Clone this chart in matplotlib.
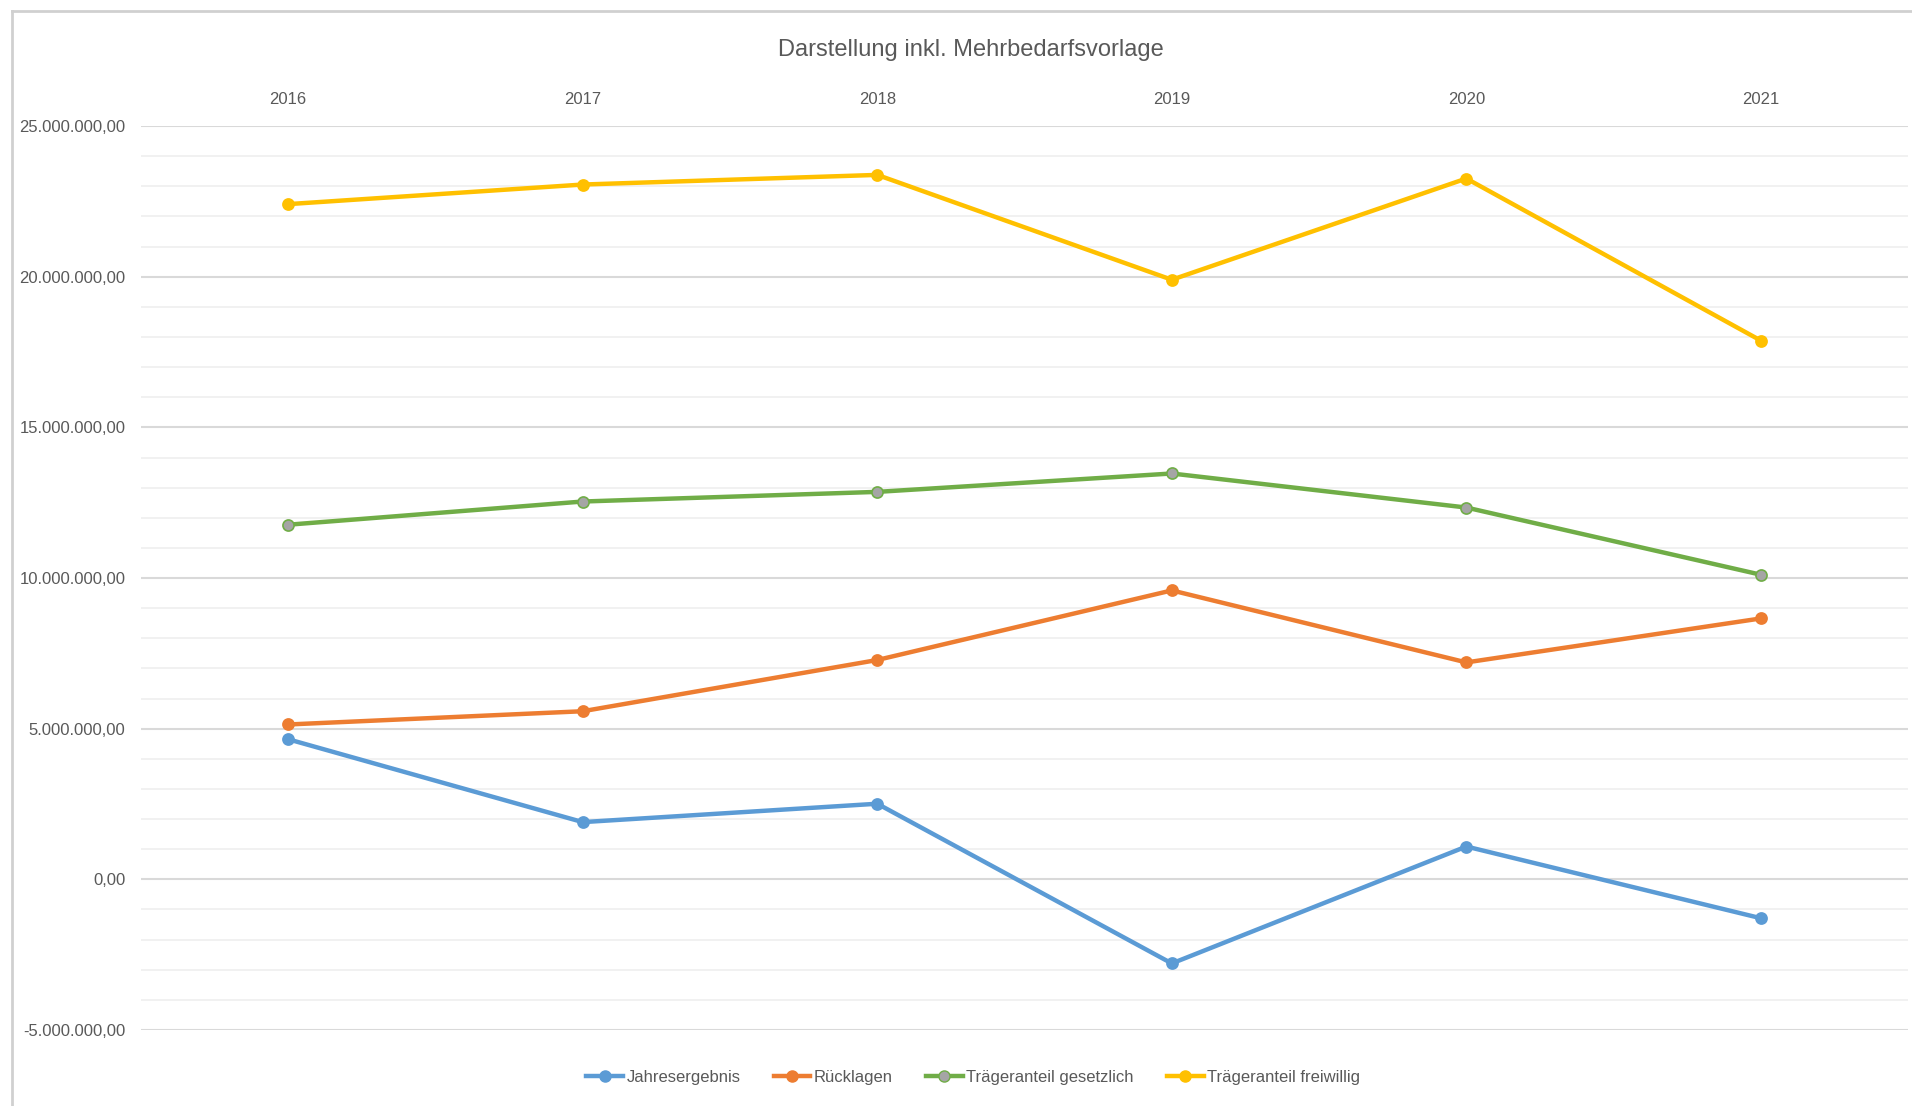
import numpy as np
import matplotlib.pyplot as plt
from matplotlib.ticker import FuncFormatter, MultipleLocator
from matplotlib.lines import Line2D

years = ["2016", "2017", "2018", "2019", "2020", "2021"]
jahresergebnis = [4.65e6, 1.90e6, 2.51e6, -2.79e6, 1.09e6, -1.29e6]
ruecklagen = [5.14e6, 5.58e6, 7.28e6, 9.59e6, 7.20e6, 8.66e6]
traeger_gesetzlich = [11.77e6, 12.54e6, 12.86e6, 13.47e6, 12.34e6, 10.11e6]
traeger_freiwillig = [22.41e6, 23.06e6, 23.38e6, 19.90e6, 23.26e6, 17.88e6]

names = ["Jahresergebnis", "Rücklagen", "Trägeranteil gesetzlich", "Trägeranteil freiwillig"]
colors = ["#5B9BD5", "#ED7D31", "#70AD47", "#FFC000"]
faces = ["#5B9BD5", "#ED7D31", "#A5A5A5", "#FFC000"]

plt.rcParams['font.family'] = ["Liberation Sans", "DejaVu Sans"]

txt = "#595959"

fig = plt.figure(figsize=(19.12, 11.06), dpi=100)
ax = fig.add_axes([0.0737, 0.0687, 0.9243, 0.8173])

x = np.arange(len(years))
series = [jahresergebnis, ruecklagen, traeger_gesetzlich, traeger_freiwillig]
for vals, c, fc, n in zip(series, colors, faces, names):
    ax.plot(x, vals, color=c, lw=3.2, marker="o", markersize=8,
            markerfacecolor=fc, markeredgecolor=c, markeredgewidth=1.2, label=n, zorder=3)

ax.set_xlim(-0.5, 5.5)
ax.set_ylim(-5e6, 25e6)
ax.yaxis.set_major_locator(MultipleLocator(5e6))
ax.yaxis.set_minor_locator(MultipleLocator(1e6))

def de_fmt(v, pos):
    s = "{:,.2f}".format(v)
    s = s.replace(",", "X").replace(".", ",").replace("X", ".")
    return s

ax.yaxis.set_major_formatter(FuncFormatter(de_fmt))
ax.set_xticks(x)
ax.set_xticklabels(years)
ax.xaxis.tick_top()
ax.tick_params(axis="x", length=0, pad=14, labelsize=12, labelcolor=txt)
ax.tick_params(axis="y", which="both", length=0, pad=11, labelsize=12, labelcolor=txt)

ax.grid(axis="y", which="major", color="#D9D9D9", lw=1.5)
ax.grid(axis="y", which="minor", color="#EFEFEF", lw=1.2)
ax.set_axisbelow(True)
for s in ax.spines.values():
    s.set_visible(False)

fig.text(0.508, 0.955, "Darstellung inkl. Mehrbedarfsvorlage", ha="center", va="center",
         fontsize=17, color=txt)

handles = [Line2D([0], [0], color=c, lw=3.2, marker="o", markersize=8,
                  markerfacecolor=fc, markeredgecolor=c) for c, fc in zip(colors, faces)]
fig.legend(handles, names, loc="center", bbox_to_anchor=(0.509, 0.026), ncol=4, frameon=False,
           fontsize=12, labelcolor=txt, handlelength=2.2, handletextpad=0.2, columnspacing=2.0)

# chart frame
fig.add_artist(Line2D([12 / 1912, 12 / 1912], [0, 1 - 11 / 1106], color="#D0D0D0", lw=2,
                      transform=fig.transFigure))
fig.add_artist(Line2D([12 / 1912, 1], [1 - 11 / 1106, 1 - 11 / 1106], color="#D0D0D0", lw=2,
                      transform=fig.transFigure))

fig.savefig("out.png", dpi=100)
